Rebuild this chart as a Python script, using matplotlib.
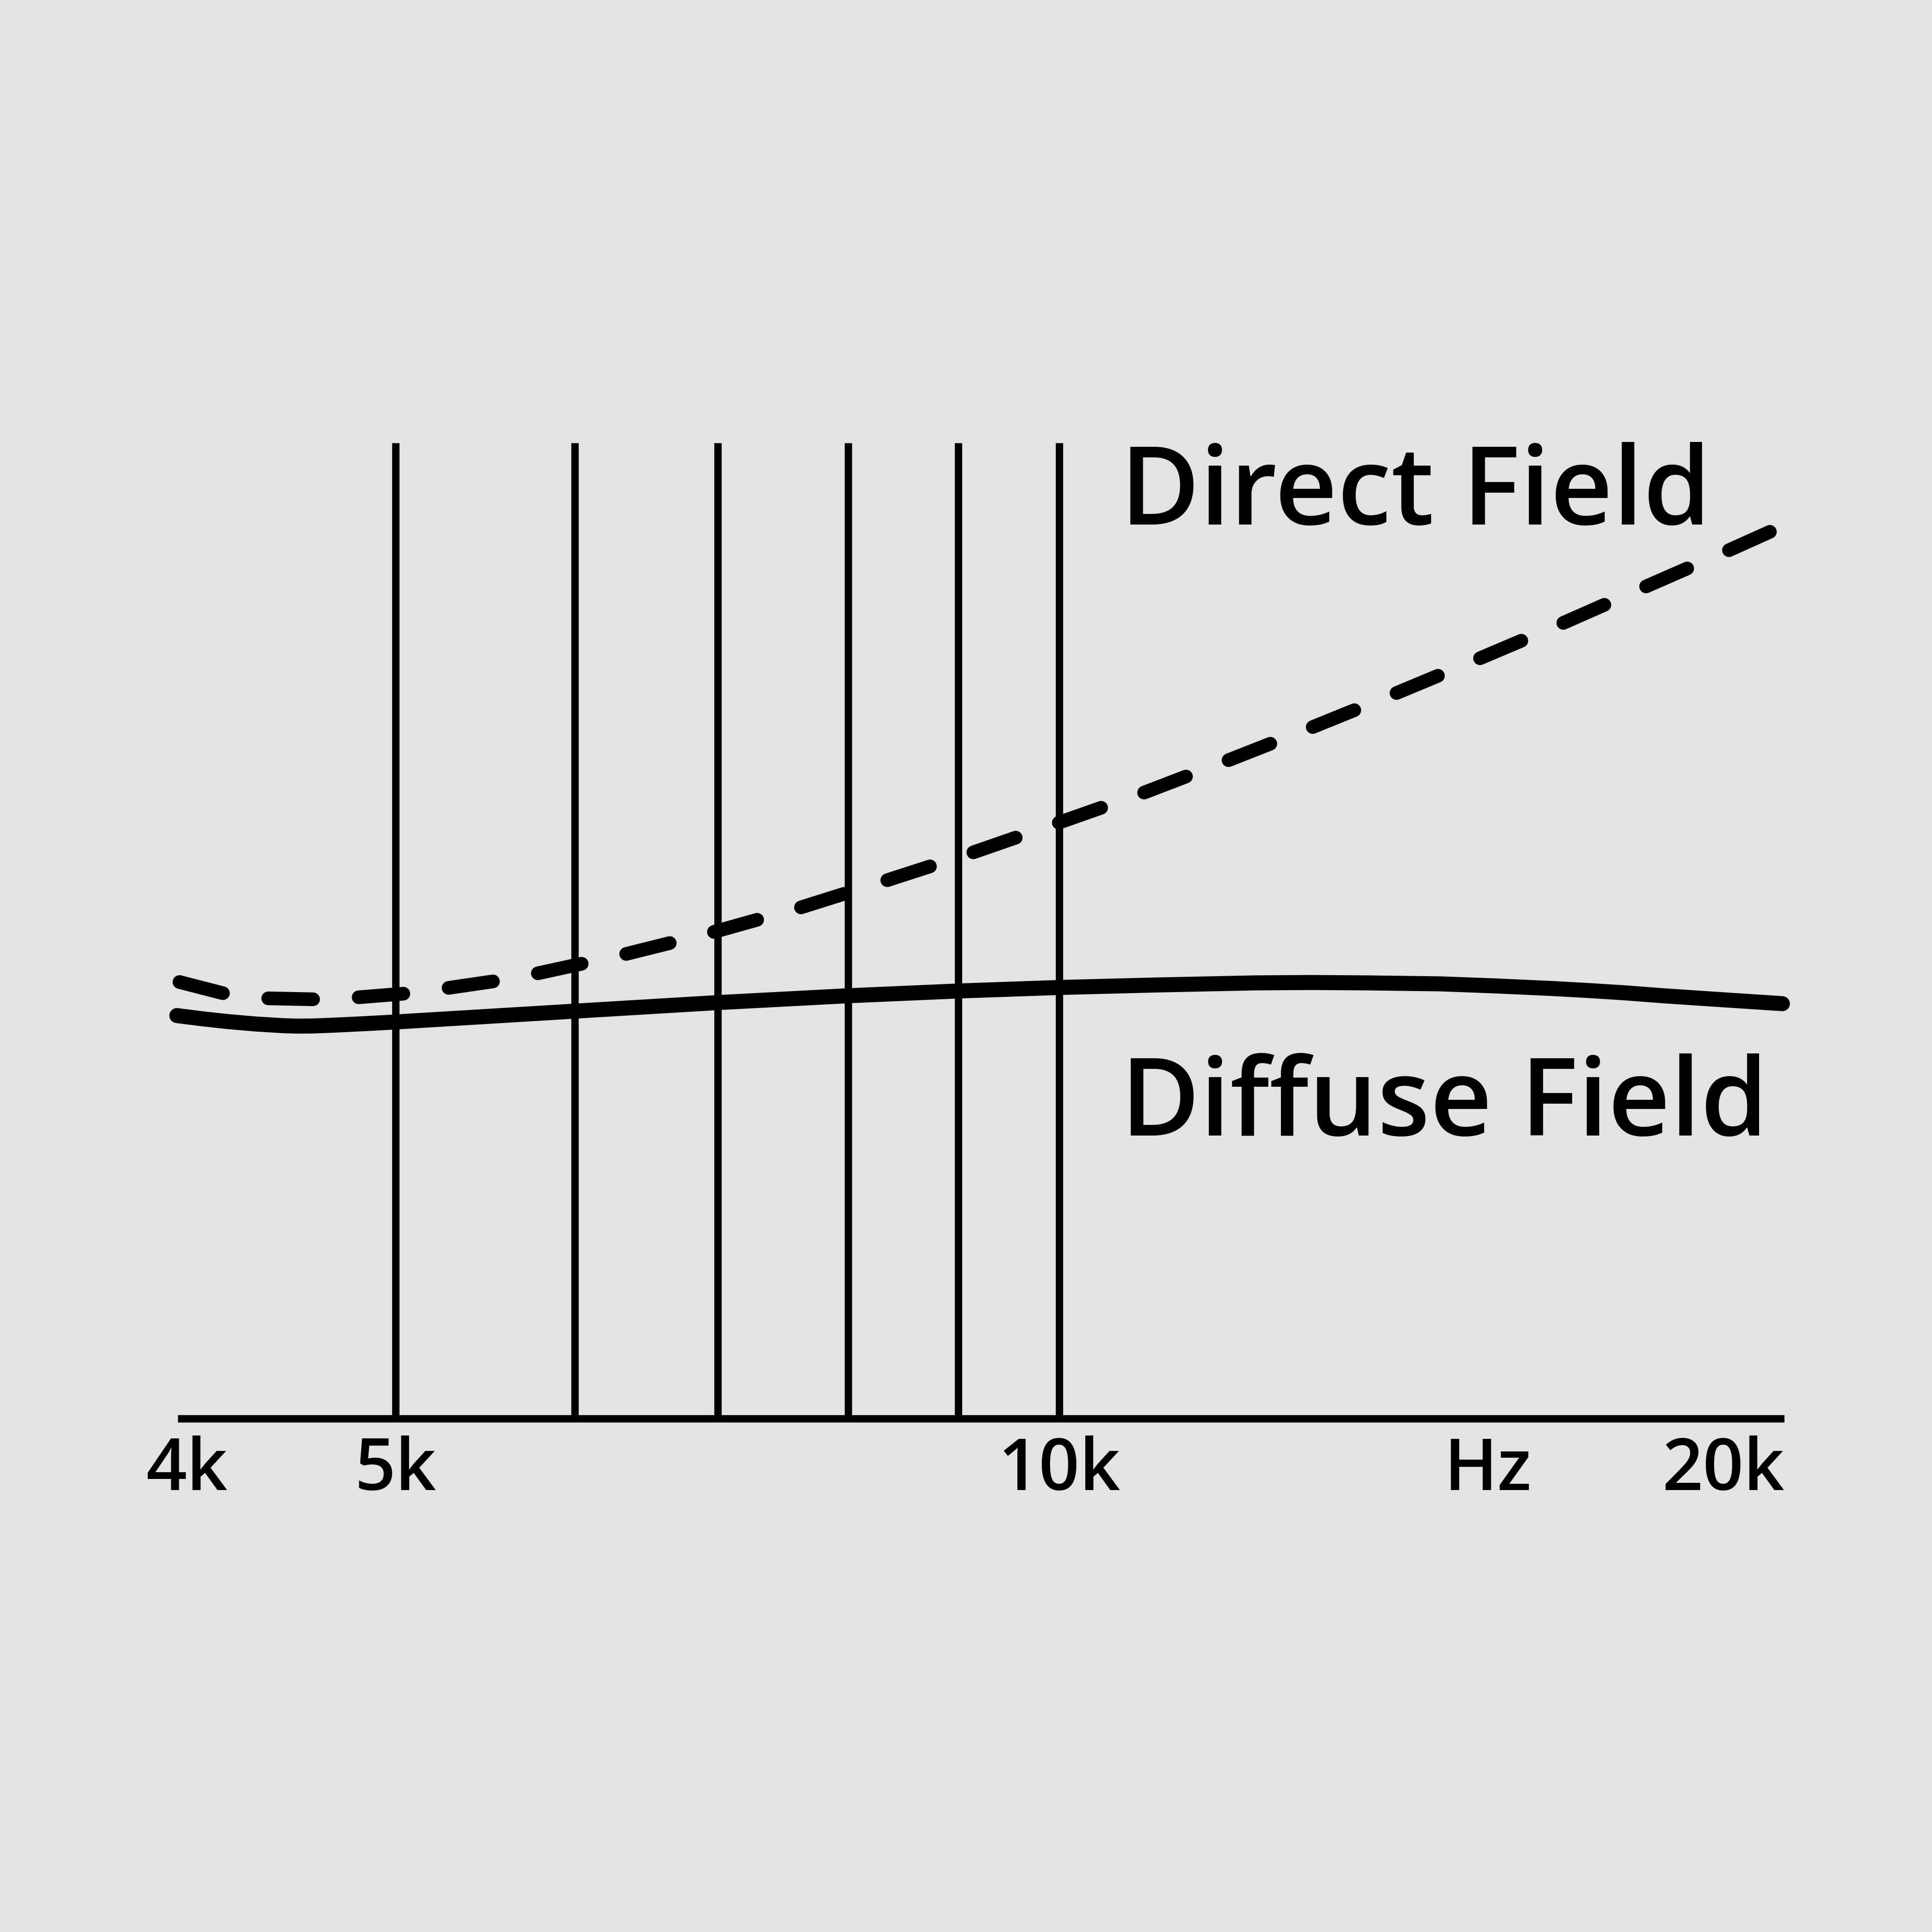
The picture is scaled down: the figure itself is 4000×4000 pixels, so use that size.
import matplotlib
matplotlib.use("Agg")
import matplotlib.pyplot as plt

# ---- data -------------------------------------------------------------
# Direct field response (dashed), frequency in Hz, level in arbitrary units
direct_freq = [3990, 4174, 4366, 4586, 4802, 5039, 5274, 5534, 5789, 6336,
               6950, 7618, 8335, 9132, 9964, 10914, 11913, 13003, 14197,
               15504, 16904, 18448, 20141, 21041]
direct_level = [44.74, 43.60, 43.07, 42.97, 43.16, 43.54, 44.11, 44.80, 45.59,
                47.52, 49.79, 52.32, 55.10, 58.00, 60.97, 64.12, 67.42, 70.80,
                74.30, 77.90, 81.50, 85.28, 89.05, 90.98]

# Diffuse field response (solid)
diffuse_freq = [3979, 4086, 4198, 4318, 4448, 4511, 4579, 4646, 4713, 4841,
                4980, 6045, 7000, 8000, 9000, 10000, 11087, 12271, 13003,
                13777, 14888, 15769, 16710, 17367, 18049, 18759, 19508, 21275]
diffuse_level = [41.30, 40.97, 40.68, 40.44, 40.26, 40.22, 40.23, 40.28, 40.34,
                 40.47, 40.62, 41.77, 42.63, 43.32, 43.82, 44.18, 44.44, 44.65,
                 44.69, 44.65, 44.55, 44.34, 44.08, 43.87, 43.63, 43.34, 43.08,
                 42.52]

# vertical reference lines (Hz)
grid_freqs = [5000, 6030, 7000, 8020, 9000, 10000]

# x-axis labels
tick_pos = [4020, 5000, 10000, 15640, 20000]
tick_labels = ["4k", "5k", "10k", "Hz", "20k"]

series_labels = ["Direct Field", "Diffuse Field"]

# ---- figure -----------------------------------------------------------
BG = "#e3e3e3"
FONT = ["Open Sans", "DejaVu Sans"]

fig = plt.figure(figsize=(10, 10), dpi=400, facecolor=BG)
S = 1568.0
left, right = 144.3 / S, 1448.0 / S
bottom, top = (S - 1151.2) / S, (S - 359.5) / S
ax = fig.add_axes([left, bottom, right - left, top - bottom])
ax.patch.set_visible(False)
ax.set_xscale("log")
ax.set_xlim(3983, 21314)
ax.set_ylim(0, 100)

for side in ["left", "right", "top"]:
    ax.spines[side].set_visible(False)
ax.spines["bottom"].set_linewidth(2.75)
ax.spines["bottom"].set_capstyle("butt")
ax.spines["bottom"].set_color("black")

ax.vlines(grid_freqs, 0, 100, colors="black", linewidth=2.75,
          capstyle="butt", zorder=2)

ax.plot(diffuse_freq, diffuse_level, color="black", linewidth=5.6,
        solid_capstyle="round", solid_joinstyle="round", zorder=3,
        clip_on=False)
ax.plot(direct_freq, direct_level, color="black", linewidth=5.1,
        linestyle=(0, (3.28, 3.33)), dash_capstyle="round",
        dash_joinstyle="round", zorder=3, clip_on=False)

ax.minorticks_off()
ax.set_yticks([])
ax.set_xticks(tick_pos)
ax.set_xticklabels(tick_labels)
ax.xaxis.set_minor_locator(matplotlib.ticker.NullLocator())
ax.tick_params(axis="x", which="both", length=0, pad=6.3, labelsize=26.6)
for lab in ax.get_xticklabels():
    lab.set_fontfamily(FONT)
    lab.set_fontweight("semibold")

fig.text((917.6 - 8.6) / S, (S - 425.6) / S, series_labels[0], fontsize=40.5,
         family=FONT, weight="semibold", ha="left", va="baseline")
fig.text((918.0 - 8.4) / S, (S - 921.6) / S, series_labels[1], fontsize=40.3,
         family=FONT, weight="semibold", ha="left", va="baseline")

fig.savefig("out.png", dpi=400, facecolor=BG)
